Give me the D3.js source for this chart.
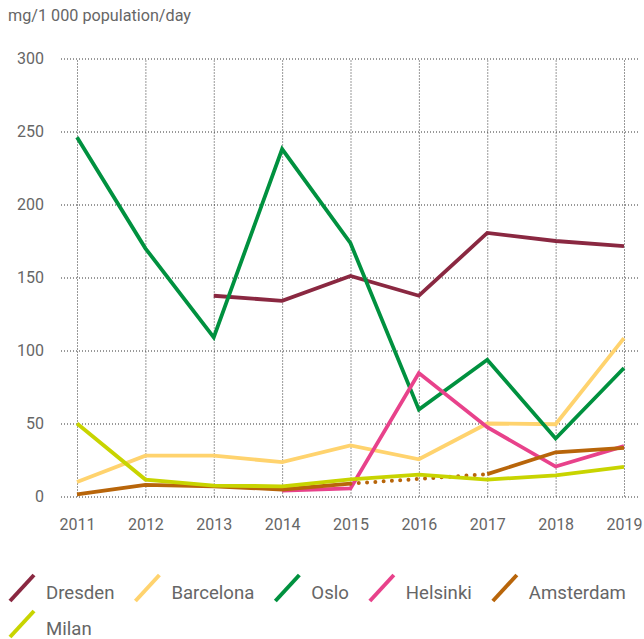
<!DOCTYPE html>
<html>
<head>
<meta charset="utf-8">
<script src="https://cdn.jsdelivr.net/npm/d3@7"></script>
<style>
  body { margin: 0; background: #fff; }
  text { font-family: Roboto, "Open Sans", sans-serif; fill: #666; }
</style>
</head>
<body>
<div class="svg-container"></div>
<script>
// data
const years = [2011, 2012, 2013, 2014, 2015, 2016, 2017, 2018, 2019];
const yTicks = [0, 50, 100, 150, 200, 250, 300];

const dresden   = [null, null, 137.5, 134, 151, 137.5, 180.5, 175, 171.5];
const barcelona = [10, 28, 28, 23.5, 35, 25.5, 50, 49.5, 108.5];
const oslo      = [246, 170, 109, 238, 173.5, 59.5, 93.7, 39.7, 88];
const helsinki  = [null, null, null, 4, 5.5, 84.5, 47.5, 20.5, 34.5];
const amsterdam = [1.4, 8, 7, 4.8, 8.8, null, 15.3, 30.3, 33.3];
const milan     = [50, 11.6, 7.5, 7, 11.8, 15, 11.6, 14.4, 20.3];

const cities = ['Dresden', 'Barcelona', 'Oslo', 'Helsinki', 'Amsterdam', 'Milan'];
const cityValues = [dresden, barcelona, oslo, helsinki, amsterdam, milan];
const cityColours = ['#8a2841', '#ffd36e', '#00913f', '#e8428b', '#b8650a', '#c8d400'];

function render() {
  const width = 644;
  const height = 639;

  const svg = d3.select('.svg-container')
    .append('svg')
    .attr('width', width)
    .attr('height', height);

  const x = d3.scalePoint().domain(years).range([77, 624]);
  const y = d3.scaleLinear().domain([0, 300]).range([496.5, 58.5]);

  // unit label
  svg.append('text')
    .attr('x', 8)
    .attr('y', 21)
    .style('font-size', '16.2px')
    .text('mg/1 000 population/day');

  // horizontal grid + y labels
  const yAxis = svg.append('g')
    .attr('transform', 'translate(61,0)')
    .call(d3.axisLeft(y).tickValues(yTicks).tickSize(-(640 - 61)).tickPadding(17));
  yAxis.select('.domain').remove();
  yAxis.selectAll('line')
    .attr('stroke', '#333')
    .attr('stroke-dasharray', '1 2');
  yAxis.selectAll('text')
    .style('font-size', '16px')
    .attr('fill', '#666');

  // vertical grid + x labels
  const xAxis = svg.append('g')
    .attr('transform', `translate(0,${y(0)})`)
    .call(d3.axisBottom(x).tickSize(-(y(0) - y(300))).tickPadding(22));
  xAxis.select('.domain').remove();
  xAxis.selectAll('line')
    .attr('stroke', '#333')
    .attr('stroke-dasharray', '1 2');
  xAxis.selectAll('text')
    .style('font-size', '16px')
    .attr('fill', '#666');

  const line = d3.line()
    .defined(d => d.v !== null)
    .x(d => x(d.year))
    .y(d => y(d.v));

  // series lines, drawn in legend order
  cityValues.forEach((vals, i) => {
    const pts = vals.map((v, j) => ({ year: years[j], v: v }));

    // dotted bridge across a missing year
    for (let j = 1; j < pts.length - 1; j++) {
      if (pts[j].v === null && pts[j - 1].v !== null && pts[j + 1].v !== null) {
        svg.append('path')
          .attr('d', d3.line().x(d => x(d.year)).y(d => y(d.v))([pts[j - 1], pts[j + 1]]))
          .attr('fill', 'none')
          .attr('stroke', cityColours[i])
          .attr('stroke-width', 4)
          .attr('stroke-linecap', 'round')
          .attr('stroke-dasharray', '0 8.3');
      }
    }

    svg.append('path')
      .datum(pts)
      .attr('d', line)
      .attr('fill', 'none')
      .attr('stroke', cityColours[i])
      .attr('stroke-width', 3.8)
      .attr('stroke-linejoin', 'miter');
  });

  // legend, flowing left to right and wrapping
  const legend = svg.append('g');
  let lx = 10;
  let ly = 601;
  cities.forEach((name, i) => {
    const item = legend.append('g');
    item.append('line')
      .attr('x1', 0).attr('y1', 0)
      .attr('x2', 24).attr('y2', -26)
      .attr('stroke', cityColours[i])
      .attr('stroke-width', 4);
    const t = item.append('text')
      .attr('x', 36)
      .attr('y', -2)
      .style('font-size', '18.6px')
      .text(name);
    const w = 36 + t.node().getComputedTextLength();
    if (lx + w > width - 10) {
      lx = 10;
      ly += 36;
    }
    item.attr('transform', `translate(${lx},${ly})`);
    lx += w + 21;
  });
}

render();
</script>
</body>
</html>
